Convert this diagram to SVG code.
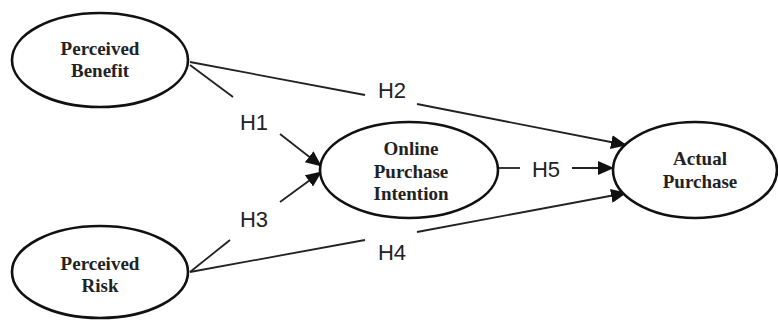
<svg xmlns="http://www.w3.org/2000/svg" width="778" height="320" viewBox="0 0 778 320">
<style>
.node ellipse{fill:#fff;stroke:#111;stroke-width:2.6}
.node text{font-family:"Liberation Serif","Times New Roman",serif;font-weight:bold;font-size:19px;fill:#222;text-anchor:middle}
.conn line{stroke:#222;stroke-width:1.8;fill:none}
.lbl{font-family:"Liberation Sans",Arial,sans-serif;font-size:22px;fill:#222;text-anchor:middle}
</style>
<defs>
<marker id="ah" markerUnits="userSpaceOnUse" markerWidth="16" markerHeight="14" refX="15" refY="7" orient="auto">
<path d="M0,0 L16,7 L0,14 Z" fill="#111"/>
</marker>
</defs>
<rect width="778" height="320" fill="#fff"/>
<g class="conn">
<line x1="190" y1="65" x2="233" y2="97"/>
<line x1="280" y1="134" x2="321" y2="166" marker-end="url(#ah)"/>
<line x1="190" y1="62" x2="365" y2="95"/>
<line x1="417" y1="104" x2="626" y2="145" marker-end="url(#ah)"/>
<line x1="190" y1="272" x2="230" y2="240"/>
<line x1="280" y1="202" x2="321" y2="172" marker-end="url(#ah)"/>
<line x1="190" y1="272" x2="365" y2="240"/>
<line x1="417" y1="232" x2="626" y2="193" marker-end="url(#ah)"/>
<line x1="498" y1="168" x2="520" y2="168"/>
<line x1="572" y1="168" x2="613" y2="168" marker-end="url(#ah)"/>
<text class="lbl" x="254" y="130">H1</text>
<text class="lbl" x="392" y="98">H2</text>
<text class="lbl" x="254" y="227">H3</text>
<text class="lbl" x="392" y="260">H4</text>
<text class="lbl" x="546" y="177">H5</text>
</g>
<g id="perceived-benefit" class="node">
<ellipse cx="100" cy="60" rx="88" ry="47"/>
<text x="100" y="55">Perceived</text>
<text x="100" y="77">Benefit</text>
</g>
<g id="perceived-risk" class="node">
<ellipse cx="100" cy="272" rx="88" ry="46"/>
<text x="100" y="270">Perceived</text>
<text x="100" y="292">Risk</text>
</g>
<g id="online-purchase-intention" class="node">
<ellipse cx="409" cy="170" rx="89" ry="48"/>
<text x="411" y="155">Online</text>
<text x="411" y="178">Purchase</text>
<text x="411" y="200">Intention</text>
</g>
<g id="actual-purchase" class="node">
<ellipse cx="695" cy="170" rx="82" ry="48"/>
<text x="700" y="165">Actual</text>
<text x="700" y="188">Purchase</text>
</g>
</svg>
